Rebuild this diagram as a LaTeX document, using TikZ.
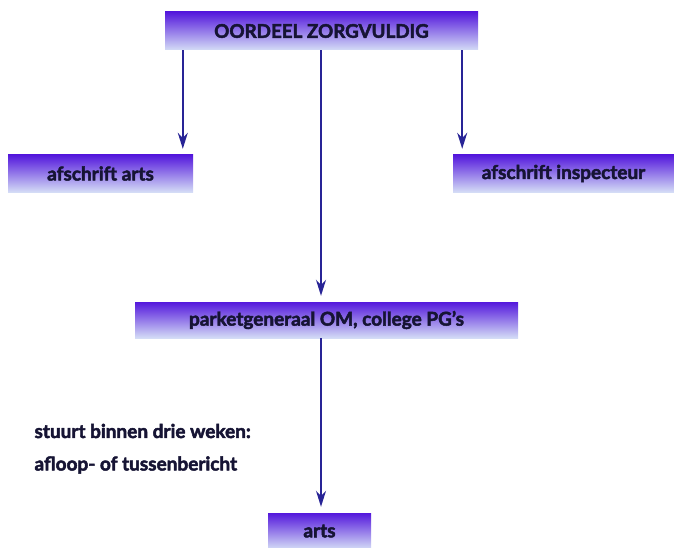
\documentclass[tikz,border=0pt]{standalone}
\usepackage{fontspec}
\setmainfont{Lato}[BoldFeatures={FakeBold=2.5}]
\usetikzlibrary{arrows.meta}
\definecolor{boxtop}{RGB}{84,24,220}
\definecolor{boxbot}{RGB}{212,220,246}
\definecolor{pijl}{RGB}{40,36,150}
\definecolor{tekst}{RGB}{22,20,52}
\tikzset{
  blok/.style={inner sep=0pt, top color=boxtop, bottom color=boxbot,
    text=tekst, font=\bfseries\fontsize{19}{21}\selectfont},
  pijl/.style={draw=pijl, line width=1.8pt, shorten >=6pt,
    -{Stealth[length=16pt,width=10pt]}}
}
\begin{document}
\begin{tikzpicture}[x=1pt,y=-1pt]
                    \useasboundingbox (0,0) rectangle (674,548);
                    % blokken
                    \node[blok, minimum width=313pt, minimum height=38pt,
                          font=\bfseries\fontsize{18.8}{21}\selectfont] (oordeel) at (321.5,31) {OORDEEL ZORGVULDIG};
                    \node[blok, minimum width=185pt, minimum height=37pt] (afsarts) at (100.5,173.5) {afschrift arts};
                    \node[blok, minimum width=221pt, minimum height=37pt] (afsinsp) at (563.5,173.5) {afschrift inspecteur};
                    \node[blok, minimum width=383pt, minimum height=36pt] (parket) at (326.5,320) {parketgeneraal OM, college PG's};
                    \node[blok, minimum width=103pt, minimum height=36pt] (arts) at (319.5,531) {arts};
                    % tekst
                    \scope[every node/.style={anchor=west, text=tekst, font=\bfseries\fontsize{19}{21}\selectfont}]
                    \node (stuurt) at (31,431) {stuurt binnen drie weken:};
                    \node (afloop) at (31,465) {afloop- of tussenbericht};
                    \endscope
                    % pijlen
                    \coordinate (linksuit) at ([xshift=18pt]oordeel.south west);
                    \coordinate (middenuit) at ([xshift=-0.5pt]oordeel.south);
                    \coordinate (rechtsuit) at ([xshift=-16pt]oordeel.south east);
                    \draw[pijl] (linksuit) -- (linksuit |- afsarts.north);
                    \draw[pijl] (rechtsuit) -- (rechtsuit |- afsinsp.north);
                    \draw[pijl] (middenuit) -- (middenuit |- parket.north);
                    \draw[pijl] (middenuit |- parket.south) -- (middenuit |- arts.north);
                \end{tikzpicture}
\end{document}
